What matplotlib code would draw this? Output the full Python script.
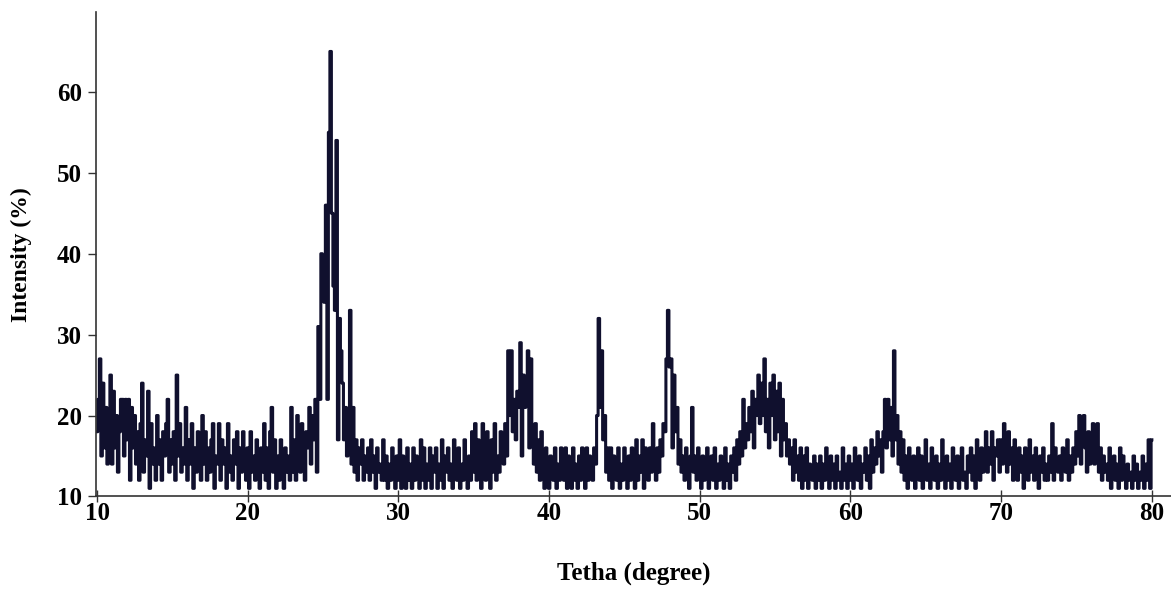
import numpy as np
import matplotlib
matplotlib.use("Agg")
import matplotlib.pyplot as plt

# -----------------------------
# XRD pattern (0.1 degree steps, 10 -> 80)
# -----------------------------
theta_start = 10.0
theta_step = 0.1

intensity = [
    18, 22, 27, 15, 24, 16, 21, 14, 19, 25,   # 10
    14, 23, 16, 20, 13, 18, 22, 22, 15, 22,   # 11
    17, 22, 12, 21, 16, 20, 14, 18, 12, 19,   # 12
    24, 13, 17, 15, 23, 11, 19, 14, 16, 12,   # 13
    20, 14, 17, 12, 18, 15, 19, 22, 13, 17,   # 14
    14, 18, 12, 25, 15, 19, 13, 16, 14, 21,   # 15
    12, 17, 14, 19, 11, 16, 13, 18, 15, 12,   # 16
    20, 14, 18, 12, 16, 13, 17, 19, 11, 15,   # 17
    14, 19, 12, 17, 14, 16, 11, 19, 13, 15,   # 18
    12, 17, 14, 18, 11, 16, 13, 18, 14, 12,   # 19
    16, 11, 18, 13, 15, 12, 17, 14, 11, 16,   # 20
    13, 19, 12, 16, 11, 18, 21, 13, 17, 11,   # 21
    15, 12, 17, 14, 11, 16, 13, 15, 12, 21,   # 22
    13, 17, 12, 20, 15, 13, 19, 14, 12, 18,   # 23
    16, 21, 14, 20, 17, 22, 13, 31, 22, 40,   # 24
    38, 34, 46, 22, 55, 65, 45, 36, 33, 54,   # 25
    17, 32, 28, 24, 17, 21, 15, 18, 33, 14,   # 26
    21, 13, 17, 12, 16, 14, 17, 12, 15, 13,   # 27
    16, 12, 17, 13, 15, 11, 16, 13, 14, 12,   # 28
    17, 12, 15, 11, 14, 12, 16, 13, 11, 15,   # 29
    12, 17, 11, 15, 13, 11, 16, 12, 14, 11,   # 30
    16, 12, 15, 13, 11, 17, 12, 16, 11, 14,   # 31
    12, 16, 11, 15, 13, 16, 11, 14, 12, 17,   # 32
    11, 15, 13, 16, 12, 14, 11, 17, 13, 12,   # 33
    16, 11, 14, 12, 17, 13, 11, 15, 12, 18,   # 34
    13, 19, 12, 17, 14, 11, 19, 15, 12, 18,   # 35
    14, 11, 17, 13, 19, 12, 15, 13, 18, 16,   # 36
    14, 19, 15, 28, 20, 28, 18, 22, 17, 23,   # 37
    21, 29, 15, 25, 21, 23, 28, 16, 27, 18,   # 38
    14, 19, 13, 17, 12, 18, 14, 11, 16, 13,   # 39
    11, 15, 13, 12, 16, 11, 14, 12, 16, 13,   # 40
    12, 16, 11, 15, 13, 11, 16, 12, 14, 11,   # 41
    15, 12, 16, 13, 11, 16, 12, 15, 13, 12,   # 42
    16, 14, 20, 32, 21, 28, 17, 20, 13, 16,   # 43
    12, 16, 11, 15, 13, 12, 16, 11, 14, 12,   # 44
    16, 13, 11, 15, 12, 16, 13, 11, 17, 12,   # 45
    15, 13, 17, 11, 16, 14, 12, 16, 13, 19,   # 46
    14, 12, 16, 13, 17, 15, 19, 18, 27, 33,   # 47
    26, 27, 16, 25, 18, 21, 14, 17, 13, 15,   # 48
    12, 16, 14, 11, 15, 21, 13, 15, 12, 16,   # 49
    13, 11, 15, 12, 14, 16, 11, 13, 15, 12,   # 50
    16, 11, 14, 12, 15, 13, 11, 16, 12, 14,   # 51
    11, 15, 13, 16, 12, 17, 14, 18, 15, 22,   # 52
    16, 19, 17, 21, 18, 23, 16, 22, 20, 25,   # 53
    19, 24, 20, 27, 18, 22, 16, 24, 20, 25,   # 54
    17, 23, 18, 24, 15, 22, 17, 19, 15, 17,   # 55
    14, 16, 12, 17, 13, 15, 12, 16, 11, 15,   # 56
    12, 16, 11, 14, 13, 12, 15, 11, 14, 12,   # 57
    15, 11, 14, 12, 16, 13, 11, 15, 12, 14,   # 58
    11, 15, 12, 13, 11, 16, 12, 14, 11, 15,   # 59
    12, 14, 11, 16, 13, 12, 15, 11, 14, 13,   # 60
    16, 12, 15, 11, 17, 13, 16, 14, 18, 15,   # 61
    17, 13, 18, 22, 16, 22, 17, 21, 15, 28,   # 62
    17, 20, 14, 18, 13, 17, 12, 15, 11, 16,   # 63
    13, 12, 15, 11, 14, 16, 12, 15, 11, 13,   # 64
    17, 12, 14, 11, 16, 13, 12, 15, 11, 14,   # 65
    12, 17, 13, 11, 15, 12, 14, 11, 16, 13,   # 66
    12, 15, 11, 14, 16, 12, 13, 11, 15, 13,   # 67
    16, 12, 15, 11, 17, 14, 12, 16, 13, 15,   # 68
    18, 13, 16, 14, 18, 12, 16, 15, 17, 13,   # 69
    17, 14, 19, 15, 13, 18, 14, 16, 12, 17,   # 70
    14, 12, 16, 13, 15, 11, 16, 14, 12, 17,   # 71
    13, 15, 12, 16, 14, 11, 15, 13, 16, 12,   # 72
    14, 12, 15, 13, 19, 12, 16, 14, 13, 15,   # 73
    12, 16, 14, 13, 17, 12, 15, 13, 16, 14,   # 74
    18, 15, 20, 14, 19, 20, 16, 13, 18, 14,   # 75
    16, 19, 14, 17, 19, 13, 16, 12, 15, 13,   # 76
    14, 12, 16, 11, 13, 15, 12, 14, 11, 16,   # 77
    12, 15, 13, 11, 14, 12, 13, 11, 15, 12,   # 78
    14, 11, 13, 12, 15, 11, 14, 12, 17, 11,   # 79
    17,                                       # 80
]

x_ticks = [10, 20, 30, 40, 50, 60, 70, 80]
y_ticks = [10, 20, 30, 40, 50, 60]

theta = theta_start + theta_step * np.arange(len(intensity))

plt.rcParams['font.family'] = ['Liberation Serif', 'DejaVu Serif']
plt.rcParams['font.weight'] = 'bold'

fig = plt.figure(figsize=(11.71, 5.91), dpi=100)
ax = fig.add_axes([0.082, 0.160, 0.918, 0.820])

ax.plot(theta, intensity, color="#10102e", lw=2.2, drawstyle="steps-mid")

ax.set_xlim(9.93, 81.27)
ax.set_ylim(10, 69.9)
ax.set_xticks(x_ticks)
ax.set_yticks(y_ticks)

for side in ("top", "right"):
    ax.spines[side].set_visible(False)
for side in ("left", "bottom"):
    ax.spines[side].set_color("#333333")
    ax.spines[side].set_linewidth(1.2)

ax.tick_params(axis="both", labelsize=18, width=1.0, colors="#333333")
ax.tick_params(axis="x", direction="inout", length=8, pad=0)
ax.tick_params(axis="y", direction="out", length=6, pad=4)
for lab in ax.get_xticklabels() + ax.get_yticklabels():
    lab.set_fontweight("bold")
    lab.set_color("black")

ax.set_xlabel("Tetha (degree)", fontsize=18, fontweight="bold", labelpad=26)
ax.set_ylabel("Intensity (%)", fontsize=17, fontweight="bold", labelpad=18)

fig.savefig("out.png", dpi=100)
